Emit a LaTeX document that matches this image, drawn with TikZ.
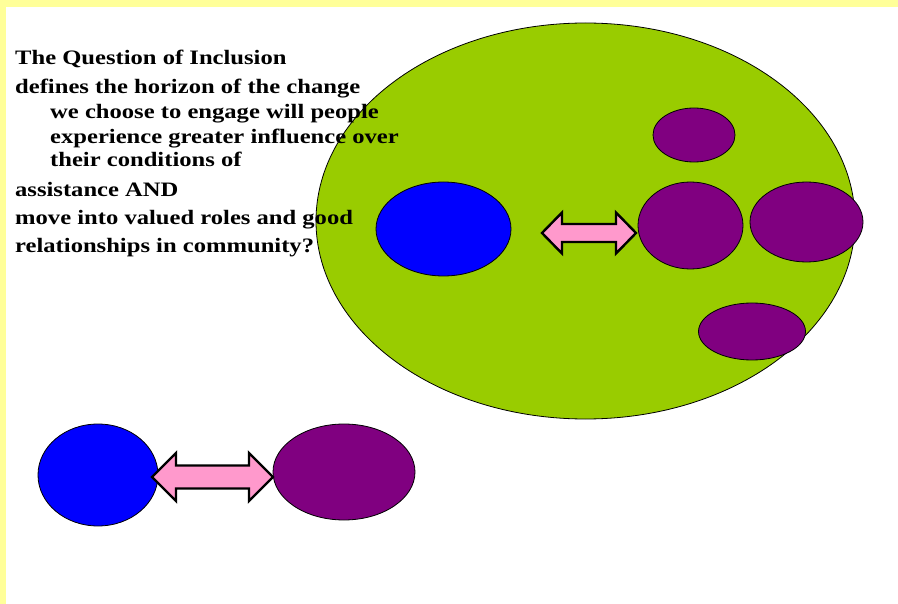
\documentclass[tikz,border=0pt]{standalone}
\usepackage{fontspec}
\setmainfont[FakeStretch=1.2]{Liberation Serif}
\usetikzlibrary{shapes.geometric,calc}

\definecolor{frameyellow}{HTML}{FFFF99}
\definecolor{fieldgreen}{HTML}{99CC00}
\definecolor{personblue}{HTML}{0000FF}
\definecolor{rolepurple}{HTML}{800080}
\definecolor{arrowpink}{HTML}{FF99CC}

\begin{document}
\begin{tikzpicture}[x=1pt,y=-1pt,
  blob/.style={ellipse, draw=black, line width=0.8pt, inner sep=0pt},
  twoway/.style={draw=black, line width=2.4pt, fill=arrowpink, line join=miter},
  line/.style={anchor=base west, inner sep=0pt, font=\bfseries\fontsize{20.5}{24}\selectfont}]

  % frame
  \useasboundingbox (0,0) rectangle (898,604);
  \fill[frameyellow] (0,0) rectangle (898,604);
  \fill[white] (6,7) rectangle (898,604);

  % community
  \node[blob, fill=fieldgreen, minimum width=539, minimum height=396] (field) at (585.5,221) {};

  \node[blob, fill=personblue, minimum width=135, minimum height=94] (person) at (443.5,229) {};
  \node[blob, fill=rolepurple, minimum width=82, minimum height=54] (roleA) at (694,135) {};
  \node[blob, fill=rolepurple, minimum width=105, minimum height=87] (roleB) at (690.5,225.5) {};
  \node[blob, fill=rolepurple, minimum width=113, minimum height=80] (roleC) at (806.5,222) {};
  \node[blob, fill=rolepurple, minimum width=107, minimum height=57] (roleD) at (752,331.5) {};

  % arrow in community
  \coordinate (topL) at (542,233);
  \coordinate (topR) at (636,233);
  \draw[twoway] (topL) -- ++(20,-20.5) -- ++(0,11.5)
    -- ($(topR)+(-20,-9)$) -- ++(0,-11.5) -- (topR)
    -- ++(-20,20.5) -- ++(0,-11.5)
    -- ($(topL)+(20,9)$) -- ++(0,11.5) -- cycle;

  % pair below
  \node[blob, fill=personblue, minimum width=120, minimum height=102] (helper) at (98,475) {};
  \node[blob, fill=rolepurple, minimum width=142, minimum height=96] (client) at (344,472) {};

  \coordinate (botL) at (152,477);
  \coordinate (botR) at (273,477);
  \draw[twoway] (botL) -- ++(24,-24) -- ++(0,12.5)
    -- ($(botR)+(-24,-11.5)$) -- ++(0,-12.5) -- (botR)
    -- ++(-24,24) -- ++(0,-12.5)
    -- ($(botL)+(24,11.5)$) -- ++(0,12.5) -- cycle;

  % question
  \node[line] (q1) at (15,65) {The Question of Inclusion};
  \node[line] (q2) at (15,94) {defines the horizon of the change};
  \node[line] (q3) at (50,119) {we choose to engage will people};
  \node[line] (q4) at (50,144) {experience greater influence over};
  \node[line] (q5) at (50,167) {their conditions of};
  \node[line] (q6) at (15,197) {assistance AND};
  \node[line] (q7) at (15,225) {move into valued roles and good};
  \node[line] (q8) at (15,253) {relationships in community?};

\end{tikzpicture}
\end{document}
